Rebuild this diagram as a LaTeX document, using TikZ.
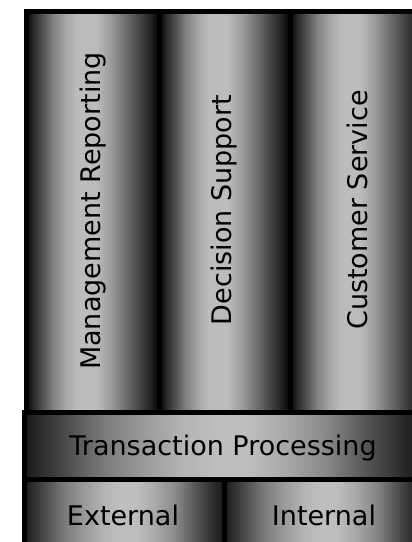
\documentclass[tikz,border=0pt]{standalone}
\usepackage{fontspec}
\setmainfont{DejaVu Sans}
\definecolor{gA}{HTML}{282828}
\definecolor{gB}{HTML}{505050}
\definecolor{gC}{HTML}{808080}
\definecolor{gD}{HTML}{A8A8A8}
\definecolor{gE}{HTML}{BCBCBC}
\definecolor{gF}{HTML}{A0A0A0}
\definecolor{gG}{HTML}{787878}
\definecolor{bEdge}{HTML}{181818}
\definecolor{b1}{HTML}{4A4A4A}
\definecolor{b2}{HTML}{7A7A7A}
\definecolor{b3}{HTML}{9A9A9A}
\definecolor{b4}{HTML}{B4B4B4}
\definecolor{b5}{HTML}{BEBEBE}
\definecolor{b6}{HTML}{A8A8A8}
\definecolor{b7}{HTML}{888888}
\definecolor{b8}{HTML}{555555}
\definecolor{b9}{HTML}{2A2A2A}
\pgfdeclarehorizontalshading{colshade}{100bp}{color(0bp)=(black); color(25bp)=(black); color(27.5bp)=(gA); color(31bp)=(gB); color(35bp)=(gC); color(40bp)=(gD); color(44bp)=(gE); color(51bp)=(gE); color(56bp)=(gF); color(61bp)=(gG); color(66bp)=(gB); color(71bp)=(gA); color(75bp)=(black); color(100bp)=(black)}
\pgfdeclarehorizontalshading{barshade}{100bp}{color(0bp)=(bEdge); color(25bp)=(bEdge); color(30bp)=(b1); color(35bp)=(b2); color(40bp)=(b3); color(45bp)=(b4); color(49bp)=(b5); color(53bp)=(b5); color(58bp)=(b6); color(63bp)=(b7); color(68bp)=(b8); color(72.5bp)=(b9); color(75bp)=(bEdge); color(100bp)=(bEdge)}
\tikzset{
  colbox/.style={shading=colshade},
  barbox/.style={shading=barshade},
  rim/.style={draw=black, line width=5pt},
  lbl/.style={font=\fontsize{27}{32}\selectfont, text=black, inner sep=0pt}
}
\begin{document}
\begin{tikzpicture}[x=1pt, y=-1pt]
\useasboundingbox (0,0) rectangle (412,542);
\fill[white] (0,0) rectangle (412,542);
\begin{scope}
\clip (0,0) rectangle (412,542);
% columns
\shade[colbox] (26,11) rectangle (159.5,412);
\shade[colbox] (159.5,11) rectangle (290,412);
\shade[colbox] (290,11) rectangle (424,412);
\draw[rim] (26,11) rectangle (159.5,412);
\draw[rim] (159.5,11) rectangle (290,412);
\draw[rim] (290,11) rectangle (424,412);
% transaction bar
\shade[barbox] (24,412) rectangle (422,479);
\draw[rim] (24,412) rectangle (422,479);
% bottom boxes
\shade[barbox] (24,479) rectangle (224,553);
\shade[barbox] (224,479) rectangle (423,553);
\draw[rim] (24,479) rectangle (224,553);
\draw[rim] (224,479) rectangle (423,553);
\end{scope}
% labels
\node[lbl, rotate=90] (mr) at (93,211) {Management Reporting};
\node[lbl, rotate=90] (ds) at (224,210) {Decision Support};
\node[lbl, rotate=90] (cs) at (357,210) {Customer Service};
\node[lbl] (tp) at (223,448) {Transaction Processing};
\node[lbl] (ex) at (123,515) {External};
\node[lbl] (in) at (324,515) {Internal};
\end{tikzpicture}
\end{document}
